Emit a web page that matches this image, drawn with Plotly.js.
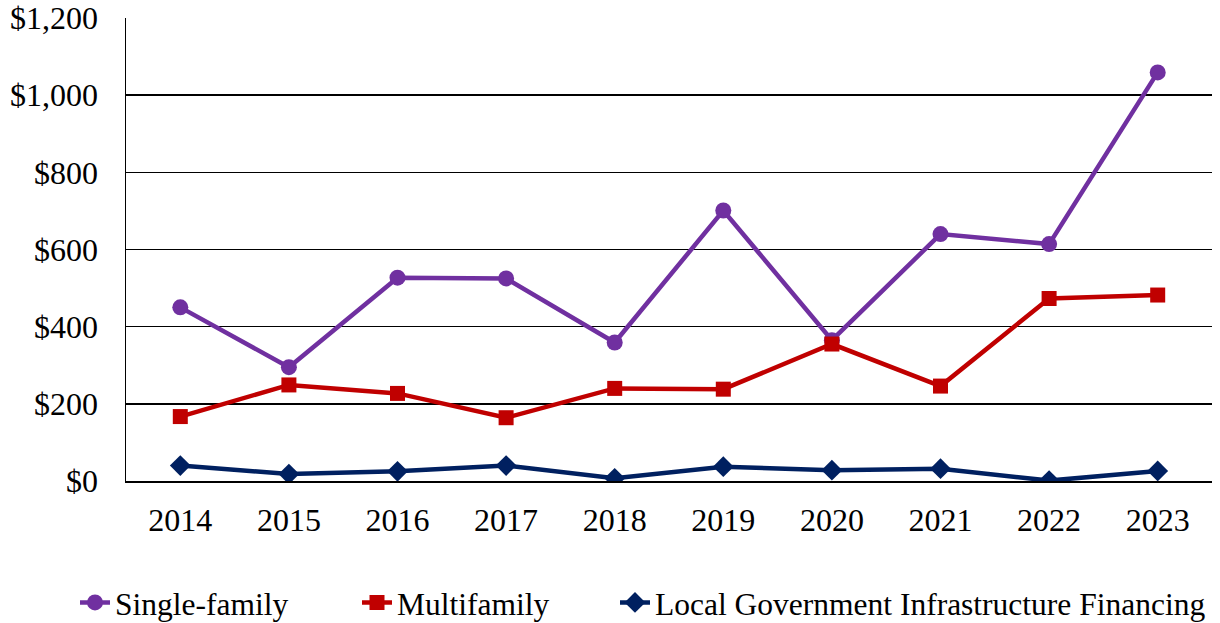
<!DOCTYPE html>
<html>
<head>
<meta charset="utf-8">
<script src="https://cdn.plot.ly/plotly-3.0.1.min.js"></script>
<style>html,body{margin:0;padding:0;background:#fff;}#chart{width:1220px;height:623px;}</style>
</head>
<body>
<div id="chart"></div>
<script>
const years = ["2014","2015","2016","2017","2018","2019","2020","2021","2022","2023"];
const singleFamily = [450, 295, 527, 525, 359, 701, 365, 640, 614, 1059];
const multifamily = [167, 249, 227, 164, 240, 238, 355, 246, 473, 482];
const localGov = [40, 18, 25, 40, 7, 37, 28, 32, 1, 26];
const yTickVals = [0, 200, 400, 600, 800, 1000, 1200];
const yTickText = ["$0", "$200", "$400", "$600", "$800", "$1,000", "$1,200"];

const fam = "Liberation Serif, Times New Roman, serif";
const tickFont = {family: fam, size: 32, color: "#000"};
const legendFont = {family: fam, size: 31.5, color: "#000"};

const traces = [
  {x: years, y: singleFamily, name: "Single-family", type: "scatter", mode: "lines+markers", legend: "legend",
   line: {color: "#7030A0", width: 4.5}, marker: {symbol: "circle", size: 16, color: "#7030A0"}},
  {x: years, y: multifamily, name: "Multifamily", type: "scatter", mode: "lines+markers", legend: "legend2",
   line: {color: "#C00000", width: 4.5}, marker: {symbol: "square", size: 15, color: "#C00000"}},
  {x: years, y: localGov, name: "Local Government Infrastructure Financing", type: "scatter", mode: "lines+markers", legend: "legend3",
   line: {color: "#002060", width: 4.5}, marker: {symbol: "diamond", size: 16, color: "#002060"}}
];

function leg(px) {
  return {orientation: "h", x: px / 1220, xref: "container", xanchor: "left",
          y: 0.033, yref: "container", yanchor: "middle",
          font: legendFont, itemwidth: 30, bgcolor: "rgba(0,0,0,0)"};
}

const layout = {
  width: 1220, height: 623,
  margin: {l: 126, r: 8, t: 18, b: 142, autoexpand: false},
  paper_bgcolor: "#fff", plot_bgcolor: "#fff",
  font: tickFont,
  showlegend: true,
  legend: leg(75),
  legend2: leg(357),
  legend3: leg(615),
  xaxis: {type: "category", range: [-0.5, 9.5], showgrid: false, showline: true,
          linecolor: "#000", linewidth: 1.5, ticks: "", tickfont: tickFont, ticklabelstandoff: 10, zeroline: false},
  yaxis: {range: [0, 1200], tickvals: yTickVals, ticktext: yTickText, showgrid: true,
          gridcolor: "#000", gridwidth: 1.5, showline: true, linecolor: "#000", linewidth: 1.5,
          ticks: "", tickfont: tickFont, ticklabelstandoff: 20, zeroline: false}
};

Plotly.newPlot("chart", traces, layout, {displayModeBar: false, staticPlot: true});
</script>
</body>
</html>
